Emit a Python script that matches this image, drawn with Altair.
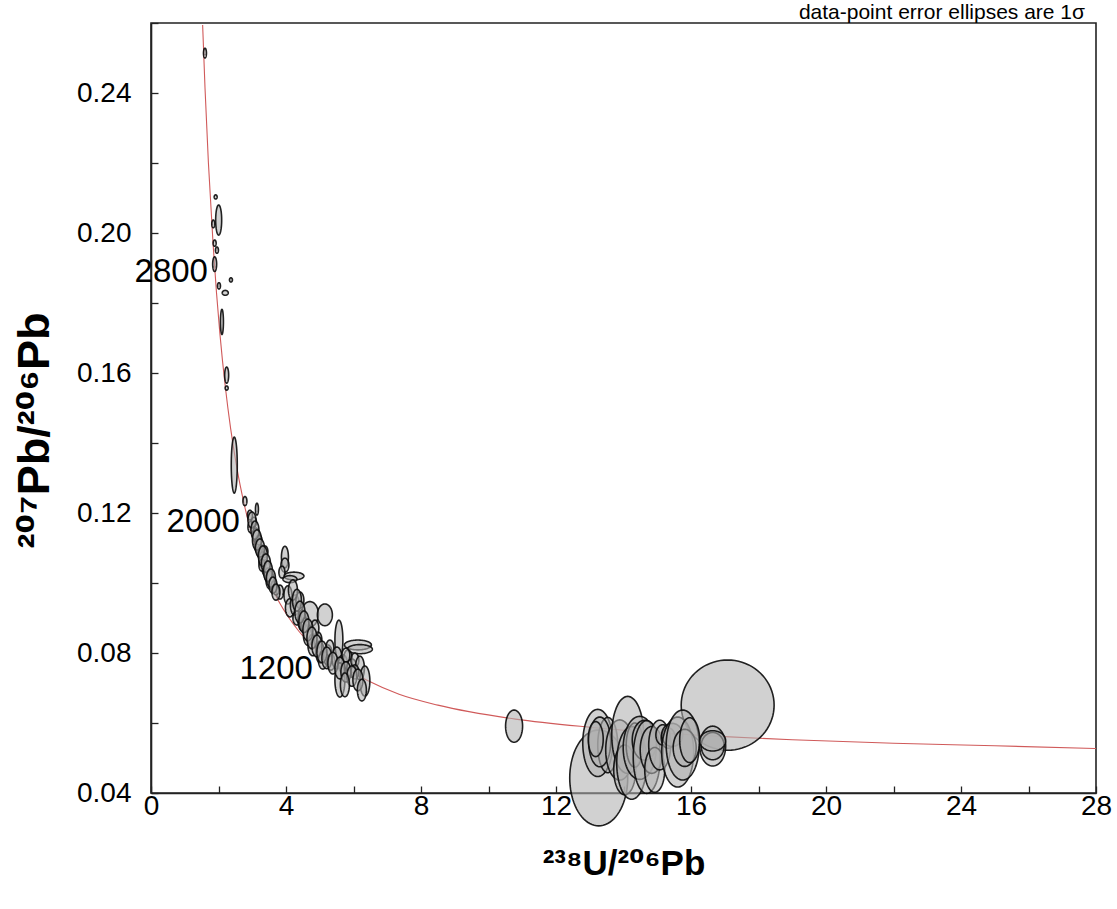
import altair as alt
import pandas as pd
import numpy as np

FONT = "Liberation Sans, Arial, DejaVu Sans"

# Concordia curve (238U/206Pb, 207Pb/206Pb)
conc_x = [1.53, 1.60, 1.70, 1.84, 1.94, 2.04, 2.20, 2.36, 2.55, 2.75, 3.00, 3.20, 3.50,
          3.80, 4.40, 4.89, 5.60, 6.40, 7.35, 8.50, 10.80, 13.0, 15.0, 17.0, 19.0, 22.0, 25.0, 28.0]
conc_y = [0.2594, 0.2415, 0.2202, 0.1968, 0.1830, 0.1714, 0.1562, 0.1441, 0.1326, 0.1230, 0.1134,
          0.1074, 0.1002, 0.0945, 0.0860, 0.0810, 0.0765, 0.0722, 0.0682, 0.0651, 0.0611, 0.0588,
          0.0572, 0.0561, 0.0552, 0.0542, 0.0535, 0.0527]

# Age labels on the concordia (Ma)
age_labels = ["2800", "2000", "1200"]
age_label_x = [1.688, 2.635, 4.797]
age_label_y = [0.1890, 0.1173, 0.0754]

# Note anchored at the top-right corner of the plot
note_text = ["data-point error ellipses are 1σ"]
note_x = [28]
note_y = [0.26]

# Data-point error ellipses (centre x, centre y, 1 sigma x, 1 sigma y)
ell_x = [13.266, 17.086, 13.237, 13.533, 13.296, 13.177, 13.888, 14.125, 14.036, 14.243,
         14.332, 14.480, 14.629, 14.688, 14.836, 14.925, 15.073, 15.166, 15.325, 15.443,
         15.606, 15.754, 15.813, 15.961, 16.642, 16.642, 16.642, 10.758,
         1.599, 1.916, 2.005, 1.845, 1.886, 1.954, 1.886, 2.014, 2.369, 2.200,
         2.102, 2.242, 2.242, 2.467, 2.783, 3.139, 2.932, 2.961, 3.050, 3.109,
         3.168, 3.257, 3.376, 3.316, 3.405, 3.465, 3.524, 3.642, 3.198, 3.287,
         3.968, 4.235, 4.116, 3.968, 4.057, 4.116, 3.820, 4.264, 4.323, 4.708,
         4.471, 5.152, 4.649, 4.797, 4.945, 5.004, 5.093, 5.241, 5.330, 5.567,
         5.508, 5.686, 6.130, 6.189, 5.834, 5.952, 5.597, 6.041, 6.189, 6.337,
         6.041, 4.856, 4.412, 3.879, 3.702, 5.300, 5.774, 4.560,
         2.991, 3.080, 3.139, 3.228, 3.316, 3.405, 3.465, 3.553, 3.613, 3.702,
         4.205, 4.323, 4.412, 4.531, 4.649, 4.768, 4.916, 5.064, 5.211, 5.389,
         5.597, 5.774, 5.952, 6.130, 5.745, 6.248]
ell_y = [0.0443, 0.0651, 0.0543, 0.0537, 0.0546, 0.0554, 0.0523, 0.0566, 0.0466, 0.0486,
         0.0537, 0.0529, 0.0551, 0.0503, 0.0523, 0.0466, 0.0537, 0.0566, 0.0557, 0.0566,
         0.0517, 0.0537, 0.0529, 0.0551, 0.0534, 0.0534, 0.0549, 0.0591,
         0.2514, 0.2103, 0.2037, 0.2026, 0.1971, 0.1951, 0.1911, 0.1849, 0.1866, 0.1829,
         0.1746, 0.1594, 0.1557, 0.1337, 0.1234, 0.1211, 0.1194, 0.1160, 0.1174, 0.1137,
         0.1109, 0.1089, 0.1089, 0.1066, 0.1043, 0.1023, 0.1009, 0.0989, 0.1123, 0.1051,
         0.1074, 0.1020, 0.1011, 0.1051, 0.0966, 0.0929, 0.0974, 0.0937, 0.0900, 0.0911,
         0.0894, 0.0909, 0.0851, 0.0823, 0.0837, 0.0803, 0.0780, 0.0794, 0.0774, 0.0837,
         0.0786, 0.0769, 0.0823, 0.0811, 0.0780, 0.0757, 0.0723, 0.0780, 0.0757, 0.0720,
         0.0746, 0.0871, 0.0951, 0.1031, 0.0980, 0.0814, 0.0794, 0.0880,
         0.1180, 0.1151, 0.1123, 0.1100, 0.1077, 0.1057, 0.1034, 0.1014, 0.0994, 0.0974,
         0.0980, 0.0951, 0.0917, 0.0889, 0.0866, 0.0843, 0.0820, 0.0803, 0.0786, 0.0771,
         0.0757, 0.0746, 0.0734, 0.0723, 0.0709, 0.0694]
ell_sx = [0.859, 1.377, 0.444, 0.296, 0.326, 0.222, 0.415, 0.474, 0.326, 0.444,
          0.252, 0.489, 0.370, 0.400, 0.341, 0.296, 0.326, 0.207, 0.207, 0.311,
          0.474, 0.489, 0.341, 0.296, 0.385, 0.341, 0.385, 0.252,
          0.044, 0.044, 0.089, 0.044, 0.044, 0.044, 0.059, 0.044, 0.044, 0.089,
          0.044, 0.059, 0.044, 0.089, 0.059, 0.044, 0.074, 0.089, 0.074, 0.104,
          0.104, 0.118, 0.089, 0.118, 0.118, 0.104, 0.118, 0.089, 0.089, 0.089,
          0.104, 0.296, 0.207, 0.118, 0.118, 0.133, 0.104, 0.133, 0.118, 0.252,
          0.118, 0.222, 0.133, 0.148, 0.118, 0.118, 0.133, 0.133, 0.118, 0.118,
          0.148, 0.133, 0.400, 0.370, 0.133, 0.148, 0.148, 0.118, 0.133, 0.148,
          0.118, 0.118, 0.118, 0.089, 0.089, 0.118, 0.118, 0.118,
          0.118, 0.118, 0.133, 0.133, 0.133, 0.133, 0.133, 0.133, 0.118, 0.118,
          0.133, 0.133, 0.148, 0.148, 0.148, 0.148, 0.148, 0.148, 0.148, 0.148,
          0.148, 0.148, 0.148, 0.148, 0.133, 0.133]
ell_sy = [0.0137, 0.0129, 0.0096, 0.0079, 0.0071, 0.0050, 0.0086, 0.0110, 0.0071, 0.0104,
          0.0063, 0.0090, 0.0057, 0.0104, 0.0067, 0.0064, 0.0071, 0.0029, 0.0029, 0.0033,
          0.0100, 0.0100, 0.0053, 0.0064, 0.0057, 0.0039, 0.0029, 0.0046,
          0.0014, 0.0006, 0.0043, 0.0011, 0.0009, 0.0009, 0.0021, 0.0009, 0.0006, 0.0007,
          0.0036, 0.0023, 0.0006, 0.0080, 0.0013, 0.0017, 0.0014, 0.0017, 0.0014, 0.0020,
          0.0023, 0.0020, 0.0017, 0.0023, 0.0023, 0.0020, 0.0026, 0.0017, 0.0014, 0.0017,
          0.0031, 0.0011, 0.0010, 0.0020, 0.0026, 0.0026, 0.0020, 0.0029, 0.0020, 0.0036,
          0.0029, 0.0031, 0.0029, 0.0031, 0.0023, 0.0031, 0.0026, 0.0029, 0.0023, 0.0057,
          0.0031, 0.0026, 0.0014, 0.0013, 0.0029, 0.0026, 0.0049, 0.0020, 0.0034, 0.0043,
          0.0020, 0.0023, 0.0023, 0.0017, 0.0014, 0.0023, 0.0020, 0.0020,
          0.0023, 0.0026, 0.0029, 0.0026, 0.0029, 0.0026, 0.0029, 0.0026, 0.0023, 0.0023,
          0.0029, 0.0031, 0.0031, 0.0031, 0.0031, 0.0031, 0.0031, 0.0031, 0.0031, 0.0031,
          0.0031, 0.0029, 0.0029, 0.0031, 0.0034, 0.0031]

x_ticks = [0, 2, 4, 6, 8, 10, 12, 14, 16, 18, 20, 22, 24, 26, 28]
y_ticks = [0.04, 0.06, 0.08, 0.10, 0.12, 0.14, 0.16, 0.18, 0.20, 0.22, 0.24, 0.26]

# ---- build tables ----
conc_df = pd.DataFrame({"x": conc_x, "y": conc_y})
lab_df = pd.DataFrame({"label": age_labels, "x": age_label_x, "y": age_label_y})
note_df = pd.DataFrame({"label": note_text, "x": note_x, "y": note_y})

phi = np.linspace(0.0, np.pi, 41)
rows = []
for i, (cx, cy, sx, sy) in enumerate(zip(ell_x, ell_y, ell_sx, ell_sy)):
    for p in phi:
        rows.append({"id": i, "x": cx - sx * np.cos(p),
                     "ylo": cy - sy * np.sin(p), "yhi": cy + sy * np.sin(p)})
ell_df = pd.DataFrame(rows)

xscale = alt.Scale(domain=[0, 28], nice=False, zero=False)
yscale = alt.Scale(domain=[0.04, 0.26], nice=False, zero=False)

xaxis = alt.Axis(
    values=x_ticks,
    labelExpr="datum.value % 4 == 0 ? format(datum.value, 'd') : ''",
    title="²³⁸U/²⁰⁶Pb", titleFont=FONT, titleFontSize=35, titleFontWeight="bold",
    titlePadding=26, labelFont=FONT, labelFontSize=28, labelPadding=6,
    labelFlush=False, labelOverlap=False, tickSize={"expr": "-7"}, grid=False,
)
yaxis = alt.Axis(
    values=y_ticks,
    labelExpr="round(datum.value * 100) % 4 == 0 ? format(datum.value, '.2f') : ''",
    title="²⁰⁷Pb/²⁰⁶Pb", titleFont=FONT, titleFontSize=45, titleFontWeight="bold",
    titlePadding=19, titleY=407, labelFont=FONT, labelFontSize=28, labelPadding=27,
    labelFlush=False, labelOverlap=False, tickSize={"expr": "-7"}, grid=False,
)

concordia = alt.Chart(conc_df).mark_line(
    color="#d05a5a", strokeWidth=1.1, interpolate="monotone"
).encode(
    x=alt.X("x:Q", scale=xscale, axis=xaxis),
    y=alt.Y("y:Q", scale=yscale, axis=yaxis),
)

ellipses = alt.Chart(ell_df).mark_area(
    orient="vertical", fill="#b0b0b0", fillOpacity=0.58,
    stroke="#0a0a0a", strokeWidth=1.6, strokeOpacity=0.9,
).encode(
    x=alt.X("x:Q", scale=xscale, axis=xaxis),
    y=alt.Y("ylo:Q", scale=yscale, axis=yaxis),
    y2="yhi:Q",
    detail="id:N",
)

labels = alt.Chart(lab_df).mark_text(
    align="right", baseline="middle", font=FONT, fontSize=33, color="#000000"
).encode(
    x=alt.X("x:Q", scale=xscale, axis=xaxis),
    y=alt.Y("y:Q", scale=yscale, axis=yaxis),
    text="label:N",
)

note = alt.Chart(note_df).mark_text(
    align="right", baseline="alphabetic", font=FONT, fontSize=21, color="#000000",
    dx=-11, dy=-4,
).encode(
    x=alt.X("x:Q", scale=xscale, axis=xaxis),
    y=alt.Y("y:Q", scale=yscale, axis=yaxis),
    text="label:N",
)

chart = alt.layer(concordia, ellipses, labels, note).properties(
    width=945, height=770,
    autosize=alt.AutoSizeParams(type="none"),
    padding={"left": 151, "top": 23, "right": 21, "bottom": 116},
).configure_view(
    stroke="#222222", strokeWidth=1.6
).configure_axis(
    domainColor="#222222", domainWidth=1.6, tickColor="#222222", tickWidth=1.3,
    labelColor="#000000", titleColor="#000000",
)

chart.save("out.html", embed_options={"renderer": "svg", "actions": False})
